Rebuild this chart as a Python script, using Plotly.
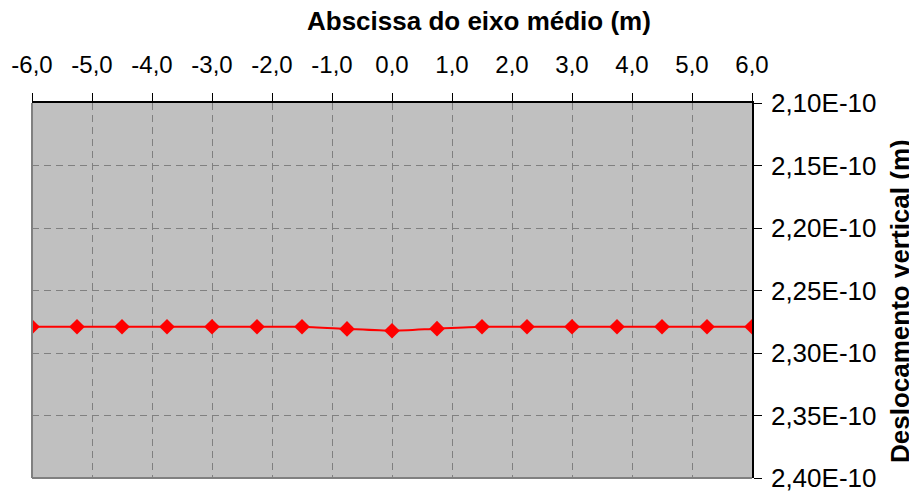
import plotly.graph_objects as go

# Data
abscissa = [-6.0, -5.25, -4.5, -3.75, -3.0, -2.25, -1.5, -0.75, 0.0,
            0.75, 1.5, 2.25, 3.0, 3.75, 4.5, 5.25, 6.0]
deslocamento = [2.279e-10, 2.279e-10, 2.279e-10, 2.279e-10, 2.279e-10, 2.279e-10,
                2.279e-10, 2.2807e-10, 2.2822e-10, 2.2805e-10, 2.279e-10, 2.279e-10,
                2.279e-10, 2.279e-10, 2.279e-10, 2.279e-10, 2.279e-10]

x_tick_vals = [-6, -5, -4, -3, -2, -1, 0, 1, 2, 3, 4, 5, 6]
x_tick_text = ["-6,0", "-5,0", "-4,0", "-3,0", "-2,0", "-1,0", "0,0",
               "1,0", "2,0", "3,0", "4,0", "5,0", "6,0"]
y_tick_vals = [2.10e-10, 2.15e-10, 2.20e-10, 2.25e-10, 2.30e-10, 2.35e-10, 2.40e-10]
y_tick_text = ["2,10E-10", "2,15E-10", "2,20E-10", "2,25E-10",
               "2,30E-10", "2,35E-10", "2,40E-10"]

FONT = "Liberation Sans, Arial, sans-serif"

# page body has an 8px margin, so the figure is laid out in (page - 8) coordinates
W, H = 917, 491
L, R, T, B = 24, 744, 95, 470  # plot area in figure pixels
PW, PH = R - L, B - T

fig = go.Figure()
fig.add_trace(go.Scatter(
    x=abscissa, y=deslocamento, mode="lines+markers",
    line=dict(color="#FF0000", width=2, shape="spline", smoothing=0.6),
    marker=dict(symbol="diamond", size=12, color="#FF0000"),
    showlegend=False, hoverinfo="x+y",
))

fig.update_layout(
    width=W, height=H,
    margin=dict(l=L, r=W - R, t=T, b=H - B, autoexpand=False),
    paper_bgcolor="white", plot_bgcolor="#C0C0C0",
    separators=",.",
    font=dict(family=FONT, size=24, color="black"),
    xaxis=dict(
        side="top", range=[-6, 6], tickvals=x_tick_vals, ticktext=x_tick_text,
        showline=True, linecolor="black", linewidth=1.5,
        ticks="outside", ticklen=8, tickcolor="black", tickwidth=1,
        ticklabelstandoff=11,
        showgrid=True, gridcolor="#808080", gridwidth=1, griddash="7px,5px",
        zeroline=False, tickfont=dict(size=24), fixedrange=True,
    ),
    yaxis=dict(
        side="right", range=[2.40e-10, 2.10e-10], tickvals=y_tick_vals, ticktext=y_tick_text,
        showline=True, linecolor="black", linewidth=1.5,
        ticks="outside", ticklen=8, tickcolor="black", tickwidth=1,
        ticklabelstandoff=4,
        showgrid=True, gridcolor="#808080", gridwidth=1, griddash="7px,5px",
        zeroline=False, tickfont=dict(size=26), fixedrange=True,
    ),
    shapes=[
        dict(type="line", xref="paper", yref="paper", x0=0, x1=0, y0=0, y1=1,
             line=dict(color="#808080", width=2), layer="above"),
        dict(type="line", xref="paper", yref="paper", x0=0, x1=1, y0=0, y1=0,
             line=dict(color="#808080", width=2), layer="above"),
    ],
    annotations=[
        dict(text="<b>Abscissa do eixo médio (m)</b>", xref="paper", yref="paper",
             x=(471 - L) / PW, y=(B - 13) / PH, xanchor="center", yanchor="middle",
             showarrow=False, font=dict(size=26, family=FONT)),
        dict(text="<b>Deslocamento vertical (m)</b>", xref="paper", yref="paper",
             x=(892 - L) / PW, y=(B - 293) / PH, xanchor="center", yanchor="middle",
             textangle=-90, showarrow=False, font=dict(size=26, family=FONT)),
    ],
)

fig.write_html("out.html")
